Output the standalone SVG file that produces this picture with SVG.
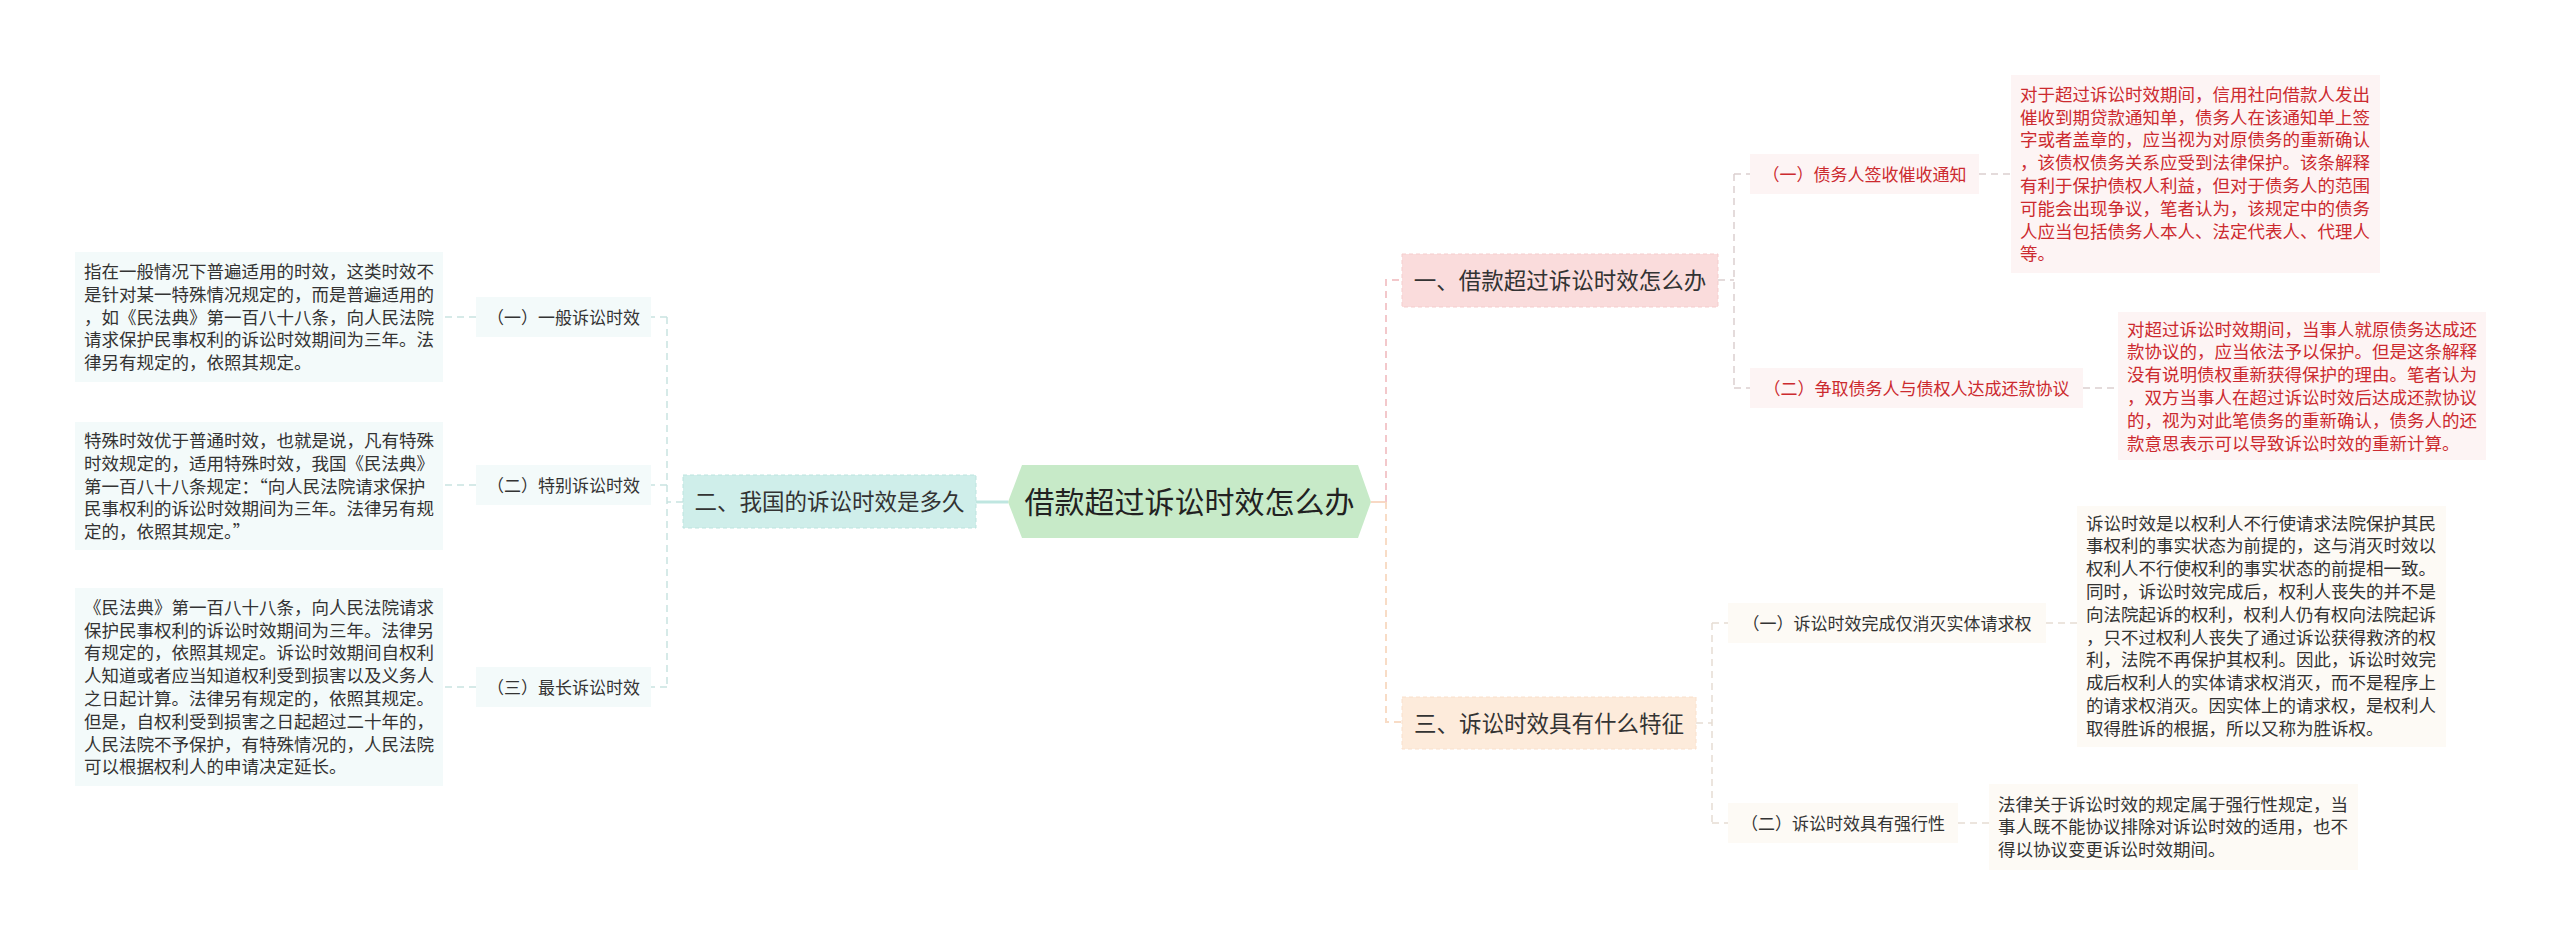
<svg xmlns="http://www.w3.org/2000/svg" width="2560" height="942" viewBox="0 0 2560 942">
<style>
text{font-family:"Noto Sans CJK SC","Noto Sans",sans-serif;}
.bt{font-size:17.5px;fill:#333;}
.rt{font-size:17.5px;fill:#cc2a2f;}
.st{font-size:17px;fill:#333;text-anchor:middle;}
.srt{font-size:17px;fill:#cc2a2f;text-anchor:middle;}
.bn{font-size:22.5px;fill:#333;text-anchor:middle;}
.ct{font-size:30px;fill:#222;text-anchor:middle;}
.lbox{fill:#f3fafa;}
.rbox{fill:#fdf4f4;}
.ybox{fill:#fdfaf5;}
.dl{fill:none;stroke:#c9e3e1;stroke-width:1.5;stroke-dasharray:7 5;}
.dr{fill:none;stroke:#dccfcf;stroke-width:1.5;stroke-dasharray:7 5;}
.dy{fill:none;stroke:#e6ddd3;stroke-width:1.5;stroke-dasharray:7 5;}
.dp{fill:none;stroke:#f3c8cb;stroke-width:2;stroke-dasharray:7 5;}
.do{fill:none;stroke:#f8dcc6;stroke-width:2;stroke-dasharray:7 5;}
</style>
<rect width="2560" height="942" fill="#ffffff"/>
<g id="connectors">
<line x1="976" y1="502" x2="1008" y2="502" stroke="#bfe6e0" stroke-width="3"/>
<path class="dl" d="M683 502 H667 M667 317 V687 M667 317 H651 M667 485 H651 M667 687 H651"/>
<path class="dl" d="M476 317 H443 M476 485 H443 M476 687 H443"/>
<line x1="1371" y1="502" x2="1386" y2="502" stroke="#f8d8c4" stroke-width="2"/>
<path class="dp" d="M1386 502 V280 H1402"/>
<path class="do" d="M1386 502 V722 H1402"/>
<path class="dr" d="M1718 280 H1734 M1734 174 V388 M1734 174 H1750 M1734 388 H1750"/>
<path class="dr" d="M1979 174 H2011 M2083 388 H2118"/>
<path class="dy" d="M1696 723 H1712 M1712 623 V823 M1712 623 H1728 M1712 823 H1728"/>
<path class="dy" d="M2046 623 H2077 M1958 823 H1989"/>
</g>
<g id="root">
<polygon points="1008,502 1022,465 1358,465 1371,502 1358,538 1022,538" fill="#c7eac8"/>
<text class="ct" x="1189.5" y="513.4">借款超过诉讼时效怎么办</text>
</g>
<g id="b2">
<rect x="683" y="475" width="293" height="53" fill="#cfeeea" stroke="#bde4df" stroke-width="1" stroke-dasharray="4 3"/>
<text class="bn" x="829.5" y="510">二、我国的诉讼时效是多久</text>
</g>
<g id="b1">
<rect x="1402" y="254" width="316" height="53" fill="#fadcdc" stroke="#f5cdcd" stroke-width="1" stroke-dasharray="4 3"/>
<text class="bn" x="1560" y="289">一、借款超过诉讼时效怎么办</text>
</g>
<g id="b3">
<rect x="1402" y="697" width="294" height="52" fill="#fdebdb" stroke="#f9e0cc" stroke-width="1" stroke-dasharray="4 3"/>
<text class="bn" x="1549" y="731.5">三、诉讼时效具有什么特征</text>
</g>
<g id="l1">
<rect class="lbox" x="476" y="297" width="175" height="40"/>
<text class="st" x="563.5" y="323.5">（一）一般诉讼时效</text>
</g>
<g id="l2">
<rect class="lbox" x="476" y="465" width="175" height="40"/>
<text class="st" x="563.5" y="491.5">（二）特别诉讼时效</text>
</g>
<g id="l3">
<rect class="lbox" x="476" y="667" width="175" height="40"/>
<text class="st" x="563.5" y="693.5">（三）最长诉讼时效</text>
</g>
<g id="l1t">
<rect class="lbox" x="75" y="252" width="368" height="130"/>
<text class="bt" x="84" y="277.9"><tspan x="84">指在一般情况下普遍适用的时效，这类时效不</tspan><tspan x="84" dy="22.8">是针对某一特殊情况规定的，而是普遍适用的</tspan><tspan x="84" dy="22.8">，如《民法典》第一百八十八条，向人民法院</tspan><tspan x="84" dy="22.8">请求保护民事权利的诉讼时效期间为三年。法</tspan><tspan x="84" dy="22.8">律另有规定的，依照其规定。</tspan></text>
</g>
<g id="l2t">
<rect class="lbox" x="75" y="422" width="368" height="128"/>
<text class="bt" x="84" y="446.9"><tspan x="84">特殊时效优于普通时效，也就是说，凡有特殊</tspan><tspan x="84" dy="22.8">时效规定的，适用特殊时效，我国《民法典》</tspan><tspan x="84" dy="22.8">第一百八十八条规定：“向人民法院请求保护</tspan><tspan x="84" dy="22.8">民事权利的诉讼时效期间为三年。法律另有规</tspan><tspan x="84" dy="22.8">定的，依照其规定。”</tspan></text>
</g>
<g id="l3t">
<rect class="lbox" x="75" y="588" width="368" height="198"/>
<text class="bt" x="84" y="613.7"><tspan x="84">《民法典》第一百八十八条，向人民法院请求</tspan><tspan x="84" dy="22.8">保护民事权利的诉讼时效期间为三年。法律另</tspan><tspan x="84" dy="22.8">有规定的，依照其规定。诉讼时效期间自权利</tspan><tspan x="84" dy="22.8">人知道或者应当知道权利受到损害以及义务人</tspan><tspan x="84" dy="22.8">之日起计算。法律另有规定的，依照其规定。</tspan><tspan x="84" dy="22.8">但是，自权利受到损害之日起超过二十年的，</tspan><tspan x="84" dy="22.8">人民法院不予保护，有特殊情况的，人民法院</tspan><tspan x="84" dy="22.8">可以根据权利人的申请决定延长。</tspan></text>
</g>
<g id="r1">
<rect class="rbox" x="1750" y="154" width="229" height="40"/>
<text class="srt" x="1864.5" y="180.5">（一）债务人签收催收通知</text>
</g>
<g id="r2">
<rect class="rbox" x="1750" y="368" width="333" height="40"/>
<text class="srt" x="1916.5" y="394.5">（二）争取债务人与债权人达成还款协议</text>
</g>
<g id="r1t">
<rect class="rbox" x="2011" y="75" width="369" height="198"/>
<text class="rt" x="2020" y="100.7"><tspan x="2020">对于超过诉讼时效期间，信用社向借款人发出</tspan><tspan x="2020" dy="22.8">催收到期贷款通知单，债务人在该通知单上签</tspan><tspan x="2020" dy="22.8">字或者盖章的，应当视为对原债务的重新确认</tspan><tspan x="2020" dy="22.8">，该债权债务关系应受到法律保护。该条解释</tspan><tspan x="2020" dy="22.8">有利于保护债权人利益，但对于债务人的范围</tspan><tspan x="2020" dy="22.8">可能会出现争议，笔者认为，该规定中的债务</tspan><tspan x="2020" dy="22.8">人应当包括债务人本人、法定代表人、代理人</tspan><tspan x="2020" dy="22.8">等。</tspan></text>
</g>
<g id="r2t">
<rect class="rbox" x="2118" y="312" width="368" height="148"/>
<text class="rt" x="2127" y="335.5"><tspan x="2127">对超过诉讼时效期间，当事人就原债务达成还</tspan><tspan x="2127" dy="22.8">款协议的，应当依法予以保护。但是这条解释</tspan><tspan x="2127" dy="22.8">没有说明债权重新获得保护的理由。笔者认为</tspan><tspan x="2127" dy="22.8">，双方当事人在超过诉讼时效后达成还款协议</tspan><tspan x="2127" dy="22.8">的，视为对此笔债务的重新确认，债务人的还</tspan><tspan x="2127" dy="22.8">款意思表示可以导致诉讼时效的重新计算。</tspan></text>
</g>
<g id="r3">
<rect class="ybox" x="1728" y="603" width="318" height="40"/>
<text class="st" x="1887" y="629.5">（一）诉讼时效完成仅消灭实体请求权</text>
</g>
<g id="r4">
<rect class="ybox" x="1728" y="803" width="230" height="40"/>
<text class="st" x="1843" y="829.5">（二）诉讼时效具有强行性</text>
</g>
<g id="r3t">
<rect class="ybox" x="2077" y="506" width="369" height="241"/>
<text class="bt" x="2086" y="529.5"><tspan x="2086">诉讼时效是以权利人不行使请求法院保护其民</tspan><tspan x="2086" dy="22.8">事权利的事实状态为前提的，这与消灭时效以</tspan><tspan x="2086" dy="22.8">权利人不行使权利的事实状态的前提相一致。</tspan><tspan x="2086" dy="22.8">同时，诉讼时效完成后，权利人丧失的并不是</tspan><tspan x="2086" dy="22.8">向法院起诉的权利，权利人仍有权向法院起诉</tspan><tspan x="2086" dy="22.8">，只不过权利人丧失了通过诉讼获得救济的权</tspan><tspan x="2086" dy="22.8">利，法院不再保护其权利。因此，诉讼时效完</tspan><tspan x="2086" dy="22.8">成后权利人的实体请求权消灭，而不是程序上</tspan><tspan x="2086" dy="22.8">的请求权消灭。因实体上的请求权，是权利人</tspan><tspan x="2086" dy="22.8">取得胜诉的根据，所以又称为胜诉权。</tspan></text>
</g>
<g id="r4t">
<rect class="ybox" x="1989" y="784" width="369" height="86"/>
<text class="bt" x="1998" y="810.5"><tspan x="1998">法律关于诉讼时效的规定属于强行性规定，当</tspan><tspan x="1998" dy="22.8">事人既不能协议排除对诉讼时效的适用，也不</tspan><tspan x="1998" dy="22.8">得以协议变更诉讼时效期间。</tspan></text>
</g>
</svg>
